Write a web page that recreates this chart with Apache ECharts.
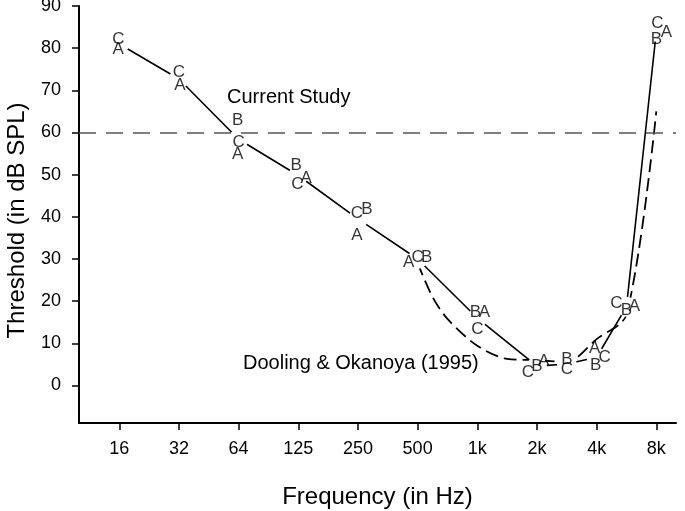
<!DOCTYPE html>
<html><head><meta charset="utf-8">
<script src="https://cdn.jsdelivr.net/npm/echarts@6/dist/echarts.min.js"></script>
<style>html,body{margin:0;padding:0;background:#fff}#c{width:685px;height:511px}</style>
</head><body><div id="c"></div>
<script>
// Tick labels of the frequency axis (one per octave above 16 Hz)
const tickLabels = ['16','32','64','125','250','500','1k','2k','4k','8k'];
const tickPos = [0,1,2,3,4,5,6,7,8,9];
const yTicks = [0,10,20,30,40,50,60,70,80,90];

// Test frequencies, as octaves above 16 Hz
const freqLabels = ['16','32','64','125','250','500','1k','2k','2.8k','4k','5.6k','8k'];
const freqPos = [0,1,2,3,4,5,6,7,7.5,8,8.5,9];

// Individual subjects (dB SPL)
const subjectA = [79.7,71.3,54.9,49.2,35.7,29.2,17.3,5.8,null,8.7,18.8,83.7];
const subjectB = [null,null,62.8,52.3,41.8,30.4,17.3,4.6,6.3,4.9,17.8,82.1];
const subjectC = [82.1,74.2,57.6,47.8,40.9,30.3,13.3,3.2,3.8,6.6,19.5,85.9];

// Current study (mean line)
const currentStudy = [81.0,72.7,58.4,49.8,39.5,30.0,16.0,4.6,5.1,6.7,18.7,83.9];

// Dooling & Okanoya (1995)
const doolingPos = [5,5.25,5.5,6,6.5,7,7.5,8,8.5,9];
const doolingValues = [29,21,15.8,9.4,6.3,6.0,5.6,11,16.8,65];

// Reference level
const refLevel = 60;

// label nudges (px) used to keep overlapping letters readable
const nudgeA = [-1,1,-1,8,-1,-9,7,7,0,-2,8,10];
const nudgeB = [0,0,-1,-2,9,9,-2,0,0,-1,0,0];
const nudgeC = [-1,0,0,-1,-1,0,0,-9,0,8,-10,1];

const FONT = 'Liberation Sans, Arial, Helvetica, sans-serif';

function letterSeries(name, values, nudges) {
  const data = [];
  values.forEach((v, i) => {
    if (v == null) return;
    data.push({ value: [freqPos[i], v], label: { offset: [nudges[i], 0] } });
  });
  return {
    type: 'scatter', name, data, z: 10,
    symbol: 'circle', symbolSize: 1,
    itemStyle: { color: 'rgba(0,0,0,0)' },
    label: { show: true, position: 'inside', formatter: name,
      color: '#000', textBorderWidth: 0, fontSize: 17, fontFamily: FONT },
    emphasis: { disabled: true }, silent: true
  };
}

const chart = echarts.init(document.getElementById('c'), null, { renderer: 'canvas' });
chart.setOption({
  animation: false,
  backgroundColor: '#fff',
  grid: { left: 79, right: 9, top: 6, bottom: 88, containLabel: false, outerBoundsMode: 'none' },
  xAxis: {
    type: 'value', min: -0.675, max: 9.33,
    name: 'Frequency (in Hz)', nameLocation: 'middle', nameGap: 62,
    nameTextStyle: { color: '#000', fontSize: 24, fontFamily: FONT },
    axisLine: { show: true, onZero: false, lineStyle: { color: '#000', width: 2 } },
    axisTick: { show: true, length: 7, customValues: tickPos, lineStyle: { color: '#000', width: 1.5 } },
    axisLabel: { customValues: tickPos, margin: 17, color: '#000', fontSize: 18, fontFamily: FONT,
      formatter: v => tickLabels[Math.round(v)] },
    splitLine: { show: false }
  },
  yAxis: {
    type: 'value', min: -8.9, max: 90,
    name: 'Threshold (in dB SPL)', nameLocation: 'middle', nameGap: 50,
    nameTextStyle: { color: '#000', fontSize: 24, fontFamily: FONT, padding: [0, 12, 0, 0] },
    axisLine: { show: true, onZero: false, lineStyle: { color: '#000', width: 2 } },
    axisTick: { show: true, length: 7, customValues: yTicks, lineStyle: { color: '#000', width: 1.5 } },
    axisLabel: { customValues: yTicks, margin: 18, color: '#000', fontSize: 18, fontFamily: FONT },
    splitLine: { show: false }
  },
  graphic: [
    { type: 'text', left: 227, top: 87, silent: true,
      style: { text: 'Current Study', fill: '#000', fontSize: 20, fontFamily: FONT } },
    { type: 'text', left: 243, top: 353, silent: true,
      style: { text: 'Dooling & Okanoya (1995)', fill: '#000', fontSize: 20, fontFamily: FONT } }
  ],
  series: [
    {
      type: 'line', name: 'Dooling & Okanoya (1995)', z: 2,
      data: doolingPos.map((x, i) => [x, doolingValues[i]]),
      showSymbol: false, symbol: 'none', smooth: 0.3,
      lineStyle: { color: '#000', width: 1.8, type: [13, 6] },
      emphasis: { disabled: true }, silent: true
    },
    {
      type: 'line', name: 'Current Study', z: 3,
      data: freqPos.map((x, i) => [x, currentStudy[i]]),
      symbol: 'circle', symbolSize: 20, showSymbol: true,
      itemStyle: { color: '#fff', borderWidth: 0 },
      lineStyle: { color: '#000', width: 1.6 },
      emphasis: { disabled: true }, silent: true
    },
    {
      type: 'line', name: 'ref', z: 6, data: [],
      markLine: {
        silent: true, symbol: 'none', label: { show: false },
        lineStyle: { color: '#555', width: 1.5, type: [17, 10] },
        data: [{ yAxis: refLevel }]
      }
    },
    letterSeries('A', subjectA, nudgeA),
    letterSeries('B', subjectB, nudgeB),
    letterSeries('C', subjectC, nudgeC)
  ]
});
</script>
</body></html>
